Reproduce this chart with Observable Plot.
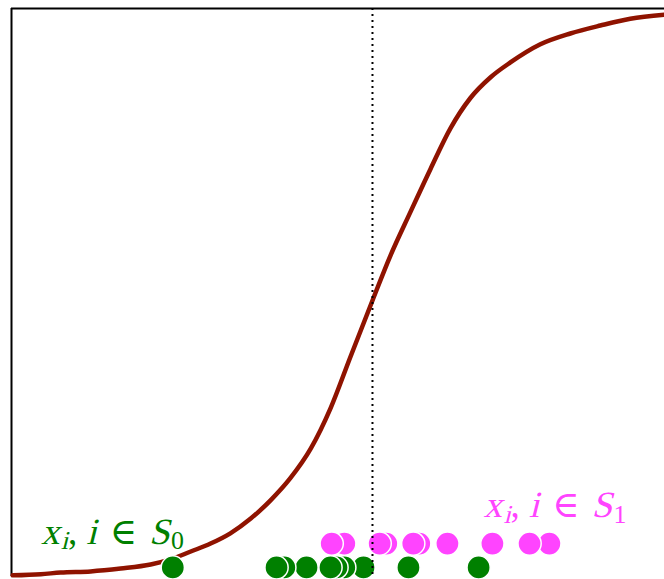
<!DOCTYPE html>
<html><head><meta charset="utf-8">
<script src="https://cdn.jsdelivr.net/npm/d3@7"></script>
<script src="https://cdn.jsdelivr.net/npm/@observablehq/plot@0.6"></script>
<style>body{margin:0;background:#fff;overflow:hidden}</style>
</head><body><div id="chart"></div>
<script>
// Sigmoid-like curve
const curveX = [-6.0,-5.53,-5.2,-4.7,-4.2,-3.7,-3.37,-3.03,-2.7,-2.37,-2.03,-1.7,-1.37,-1.03,-0.7,-0.37,0,0.3,0.63,0.97,1.3,1.63,1.97,2.3,2.8,3.3,3.8,4.3,4.87];
const curveY = [0.002,0.004,0.007,0.009,0.014,0.021,0.030,0.044,0.058,0.076,0.102,0.134,0.173,0.225,0.296,0.386,0.486,0.565,0.641,0.718,0.789,0.842,0.879,0.905,0.937,0.956,0.970,0.982,0.989];
// samples of the two classes
const s0X = [-3.33,-1.6,-1.47,-1.1,-0.7,-0.6,-0.47,-0.15,0.6,1.77];
const s1X = [-0.68,-0.47,0.12,0.23,0.68,0.78,1.25,2.0,2.62,2.95];
const s0Row = 0.016;
const s1Row = 0.058;
const threshold = 0;
const labelText = ["x_i, i ∈ S_0", "x_i, i ∈ S_1"];
const labelX = [-5.53, 1.85];
const labelY = [0.058, 0.104];

const curve = curveX.map((x,i)=>({x, y: curveY[i]}));
const s0 = s0X.map(x=>({x, y: s0Row})).reverse();
const s1 = s1X.map(x=>({x, y: s1Row})).reverse();
const lab0 = [{t: labelText[0], x: labelX[0], y: labelY[0]}];
const lab1 = [{t: labelText[1], x: labelX[1], y: labelY[1]}];

const F = 37;
const chart = Plot.plot({
  width: 664, height: 579,
  marginLeft: 11, marginRight: 0, marginTop: 8, marginBottom: 3,
  x: {domain: [-6.02, 4.87], axis: null},
  y: {domain: [0, 1], axis: null},
  style: {background: "#fff"},
  marks: [
    Plot.ruleX([-6.02], {stroke: "black", strokeWidth: 2}),
    Plot.ruleY([1], {stroke: "black", strokeWidth: 2}),
    Plot.line(curve, {x: "x", y: "y", stroke: "#8f1300", strokeWidth: 4.5, curve: "monotone-x"}),
    Plot.dot(s1, {x: "x", y: "y", r: 11.6, fill: "#ff44ff", stroke: "white", strokeWidth: 1.5}),
    Plot.dot(s0, {x: "x", y: "y", r: 11.6, fill: "#008000", stroke: "white", strokeWidth: 1.5}),
    Plot.ruleX([threshold], {stroke: "black", strokeWidth: 2, strokeDasharray: "2,4"}),
    Plot.text(lab0, {x: "x", y: "y", text: "t", fill: "#008000", textAnchor: "start", fontSize: F, className: "mlab"}),
    Plot.text(lab1, {x: "x", y: "y", text: "t", fill: "#ff44ff", textAnchor: "start", fontSize: F, className: "mlab"})
  ]
});
document.getElementById("chart").appendChild(chart);

// Typeset "x_i, i ∈ S_k" like LaTeX math: slanted letters, upright symbols, lowered subscripts
function renderMath(el, str) {
  let x0 = +el.getAttribute("x") || 0, y0 = +el.getAttribute("y") || 0;
  const tb = el.transform && el.transform.baseVal.consolidate();
  if (tb) { x0 += tb.matrix.e; y0 += tb.matrix.f; }
  const fill = el.getAttribute("fill") || el.parentNode.getAttribute("fill");
  const g = d3.select(el.parentNode).append("g").attr("fill", fill);
  const tokens = [];
  for (let i = 0; i < str.length; i++) {
    let ch = str[i];
    if (ch === " ") continue;
    let sub = false;
    if (ch === "_") { sub = true; ch = str[++i]; }
    tokens.push({ch, sub, italic: /[A-Za-z]/.test(ch)});
  }
  let cx = x0, prev = null;
  for (const tk of tokens) {
    let gap = 0;
    if (tk.ch === "∈") gap = 0.36;
    else if (prev && prev.ch === "∈") gap = 0.32;
    else if (prev && prev.ch === ",") gap = 0.24;
    else if (tk.sub) gap = 0.04;
    cx += gap * F;
    const size = tk.sub ? 0.7 * F : F;
    const by = y0 + (tk.sub ? 0.14 * F : 0);
    const t = g.append("text")
      .attr("transform", `translate(${cx},${by})` + (tk.italic ? " skewX(-14)" : ""))
      .style("font-family", "'Liberation Serif', 'DejaVu Serif', serif")
      .style("font-size", size + "px")
      .style("font-style", "normal")
      .text(tk.ch);
    cx += t.node().getComputedTextLength();
    prev = tk;
  }
  el.remove();
}
d3.select(chart).selectAll(".mlab text").each(function() {
  renderMath(this, this.textContent);
});
</script>
</body></html>
